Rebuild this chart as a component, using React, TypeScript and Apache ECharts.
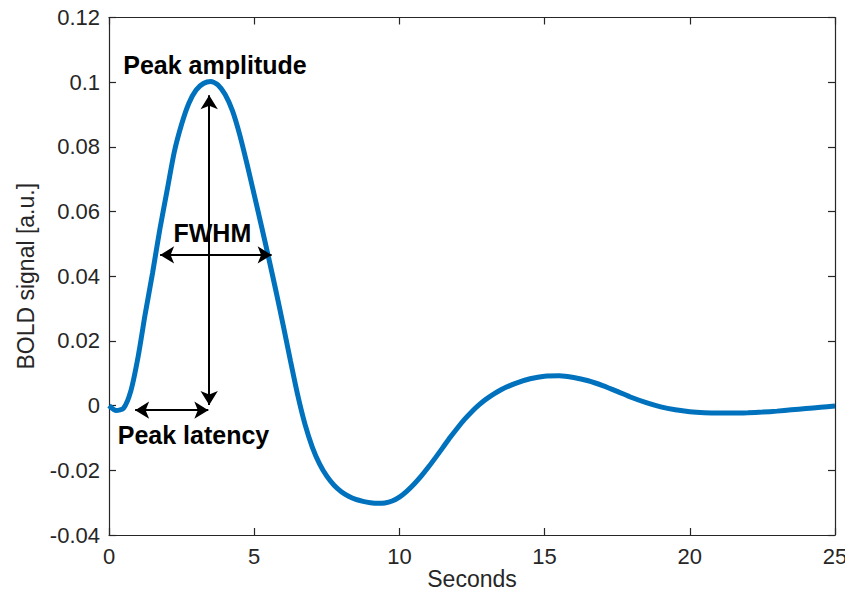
import React, { useEffect, useRef } from "react";
import * as echarts from "echarts";

// Time (seconds) and BOLD signal values
const seconds = [
  0, 0.25, 0.5, 0.75, 1.0, 1.25, 1.5, 1.75, 2.0, 2.25, 2.5, 2.75, 3.0, 3.25, 3.5, 3.75,
  4.0, 4.25, 4.5, 4.75, 5.0, 5.25, 5.5, 5.75, 6.0, 6.25, 6.5, 6.75, 7.0, 7.25, 7.5, 7.75,
  8.0, 8.25, 8.5, 8.75, 9.0, 9.25, 9.5, 9.75, 10.0, 10.25, 10.5, 10.75, 11.0, 11.25, 11.5,
  11.75, 12.0, 12.25, 12.5, 12.75, 13.0, 13.5, 14.0, 14.5, 15.0, 15.5, 16.0, 16.5, 17.0,
  17.5, 18.0, 18.5, 19.0, 19.5, 20.0, 20.5, 21.0, 21.5, 22.0, 22.5, 23.0, 23.5, 24.0,
  24.5, 25.0,
];
const boldSignal = [
  0, -0.0015, -0.0008, 0.0045, 0.015, 0.0285, 0.041, 0.0545, 0.0665, 0.0785, 0.087, 0.0935,
  0.0976, 0.0996, 0.1002, 0.0992, 0.0962, 0.0912, 0.0838, 0.0748, 0.0652, 0.0555, 0.0456,
  0.0354, 0.0248, 0.0138, 0.0032, -0.0058, -0.0128, -0.018, -0.0218, -0.0246, -0.0266,
  -0.028, -0.029, -0.0296, -0.03, -0.0302, -0.0301, -0.0295, -0.0283, -0.0265, -0.0243,
  -0.0218, -0.019, -0.016, -0.0129, -0.0098, -0.0069, -0.0042, -0.0018, 0.0003, 0.0021,
  0.0049, 0.0069, 0.0083, 0.0091, 0.0092, 0.0087, 0.0077, 0.0062, 0.0044, 0.0025, 0.0009,
  -0.0004, -0.0013, -0.0019, -0.0022, -0.0023, -0.0023, -0.0022, -0.002, -0.0017, -0.0013,
  -0.0009, -0.0005, -0.0001,
];

const xTicks = [0, 5, 10, 15, 20, 25];
const yTicks = [-0.04, -0.02, 0, 0.02, 0.04, 0.06, 0.08, 0.1, 0.12];
const yTickLabels = ["-0.04", "-0.02", "0", "0.02", "0.04", "0.06", "0.08", "0.1", "0.12"];

// Annotation arrows: [x1, y1, x2, y2] in data units
const arrowAmplitude = [3.45, 0.0002, 3.45, 0.096];
const arrowLatency = [0.9, -0.0014, 3.42, -0.0014];
const arrowFwhm = [1.76, 0.0466, 5.6, 0.0466];
// Annotation labels: [text, x, y] in data units
const annotationLabels: [string, number, number][] = [
  ["Peak amplitude", 3.65, 0.1053],
  ["FWHM", 3.56, 0.0535],
  ["Peak latency", 2.91, -0.0091],
];

const AXIS_COLOR = "#262626";
const FONT = "'Liberation Sans', Arial, Helvetica, sans-serif";

export default function App() {
  const ref = useRef<HTMLDivElement>(null);

  useEffect(() => {
    if (!ref.current) return;
    const chart = echarts.init(ref.current, undefined, { renderer: "svg" });

    const axisCommon = {
      type: "value" as const,
      axisLine: { show: true, onZero: false, lineStyle: { color: AXIS_COLOR, width: 1.2 } },
      axisTick: { show: true, inside: true, length: 7, lineStyle: { color: AXIS_COLOR, width: 1.2 } },
      splitLine: { show: false },
    };

    const arrowLine = (a: number[]) => [
      { coord: [a[0], a[1]] },
      { coord: [a[2], a[3]] },
    ];

    const option = {
      animation: false,
      backgroundColor: "#ffffff",
      grid: {
        left: 109,
        right: 10,
        top: 17.5,
        bottom: 59,
        containLabel: false,
        outerBoundsMode: "none",
      },
      xAxis: [
        {
          ...axisCommon,
          position: "bottom",
          min: xTicks[0],
          max: xTicks[xTicks.length - 1],
          interval: 5,
          name: "Seconds",
          nameLocation: "middle",
          nameGap: 32,
          nameMoveOverlap: false,
          nameTextStyle: { color: AXIS_COLOR, fontSize: 23, fontFamily: FONT },
          axisLabel: { color: AXIS_COLOR, fontSize: 22, fontFamily: FONT, margin: 10 },
        },
        {
          ...axisCommon,
          position: "top",
          min: xTicks[0],
          max: xTicks[xTicks.length - 1],
          interval: 5,
          axisLabel: { show: false },
        },
      ],
      yAxis: [
        {
          ...axisCommon,
          position: "left",
          min: yTicks[0],
          max: yTicks[yTicks.length - 1],
          interval: 0.02,
          name: "BOLD signal [a.u.]",
          nameLocation: "middle",
          nameGap: 72,
          nameMoveOverlap: false,
          nameTextStyle: { color: AXIS_COLOR, fontSize: 23, fontFamily: FONT },
          axisLabel: {
            color: AXIS_COLOR,
            fontSize: 22,
            fontFamily: FONT,
            margin: 9,
            formatter: (v: number) => {
              const i = yTicks.findIndex((t) => Math.abs(t - v) < 1e-9);
              return i >= 0 ? yTickLabels[i] : String(v);
            },
          },
        },
        {
          ...axisCommon,
          position: "right",
          min: yTicks[0],
          max: yTicks[yTicks.length - 1],
          interval: 0.02,
          axisLabel: { show: false },
        },
      ],
      series: [
        {
          type: "line",
          xAxisIndex: 0,
          yAxisIndex: 0,
          data: seconds.map((t, i) => [t, boldSignal[i]]),
          showSymbol: false,
          smooth: 0.25,
          lineStyle: { color: "#0072BD", width: 5 },
          z: 2,
        },
        {
          type: "line",
          xAxisIndex: 0,
          yAxisIndex: 0,
          data: [],
          z: 5,
          markLine: {
            silent: true,
            symbol: ["arrow", "arrow"],
            symbolSize: [13, 14],
            label: { show: false },
            lineStyle: { color: "#000000", width: 2, type: "solid" },
            data: [arrowLine(arrowAmplitude), arrowLine(arrowLatency), arrowLine(arrowFwhm)],
          },
          markPoint: {
            silent: true,
            symbol: "circle",
            symbolSize: 0,
            data: annotationLabels.map(([text, x, y]) => ({
              coord: [x, y],
              value: text,
              label: {
                show: true,
                position: "inside",
                formatter: text,
                color: "#000000",
                fontSize: 25,
                fontWeight: "bold",
                fontFamily: FONT,
              },
            })),
          },
        },
      ],
    };

    chart.setOption(option as any);
    return () => chart.dispose();
  }, []);

  return (
    <div
      ref={ref}
      style={{ position: "fixed", left: 0, top: 0, width: 845, height: 594, background: "#fff" }}
    />
  );
}
